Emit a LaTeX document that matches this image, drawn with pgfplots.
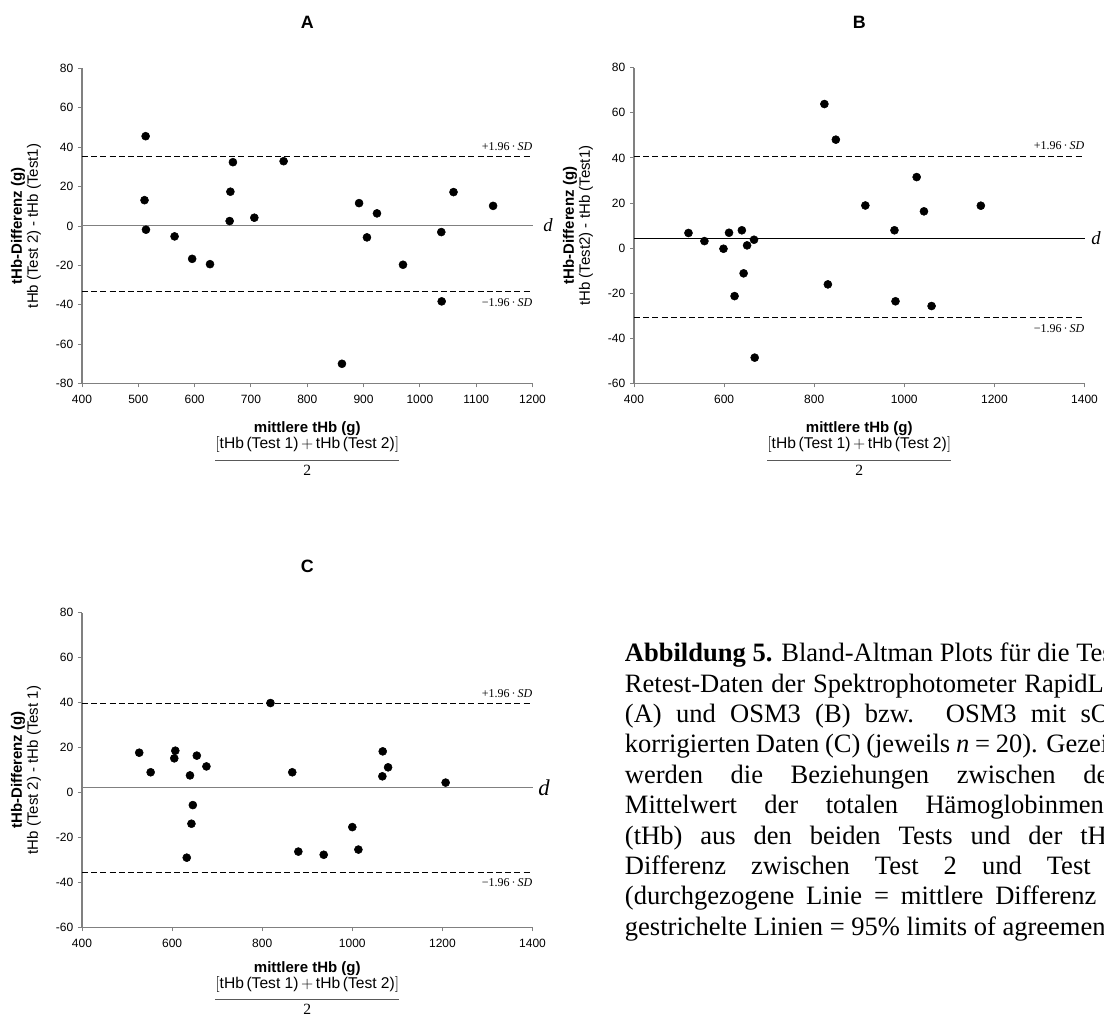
\documentclass[border=0pt]{standalone}
\usepackage{fontspec}
\setmainfont{Liberation Sans}
\newfontfamily\tnr{Liberation Serif}
\usepackage{pgfplots}
\pgfplotsset{compat=1.18}

\pgfplotstableread{
x y
513 45.6
511 13.1
513.6 -1.9
564.4 -5.3
595.6 -16.7
627.3 -19.4
668 32.4
663.5 17.4
662.2 2.5
706 4.2
758 32.9
861.6 -70.0
892 11.6
906 -5.8
923.8 6.4
970 -19.7
1038 -3.1
1038.7 -38.3
1059.7 17.2
1130 10.2
}\dataA

\pgfplotstableread{
x y
520.9 6.7
556.3 3.1
598.6 -0.3
610.9 6.8
623.2 -21.3
639.4 7.9
643.3 -11.2
651 1.2
666.4 3.7
667.9 -48.6
822.6 63.9
848 48.1
830.3 -16.1
913.5 18.9
978.1 7.9
980.4 -23.6
1027.4 31.5
1043.6 16.3
1060.5 -25.7
1169.8 18.8
}\dataB

\pgfplotstableread{
x y
527 17.7
552.4 9.0
604.8 15.2
607.1 18.6
639.7 7.6
646 -5.6
642.9 -13.9
632.5 -29.0
654.8 16.4
676.2 11.6
818.3 39.8
866.7 9.0
880.2 -26.3
936.5 -27.7
1000 -15.4
1013.5 -25.4
1067.5 18.3
1066.7 7.2
1079.4 11.2
1207.1 4.4
}\dataC

\pgfplotsset{ba/.style={
  scale only axis, width=337.9pt, anchor=south west,
  axis x line=bottom, axis y line=left,
  axis line style={-, draw=gray, line width=0.8pt},
  tick align=outside, major tick length=3pt,
  tick style={gray, line width=0.7pt},
  tick label style={font=\fontsize{9}{10}\selectfont, text=black},
  xticklabel style={yshift=-2.25pt},
  /pgf/number format/assume math mode=true,
  /pgf/number format/1000 sep={},
  scaled ticks=false, clip=false,
}}
\tikzset{sdline/.style={dash pattern=on 4.5pt off 2.4pt, line width=0.7pt, black}}

\newcommand{\xlab}[1]{%
  \node[anchor=base] at ([yshift={-37.1pt+#1pt}]axis description cs:0.5,0) {\fontsize{11.25}{13}\selectfont\bfseries mittlere tHb (g)};
  \node[anchor=base, inner sep=0pt] (num) at ([yshift={-49.1pt+#1pt}]axis description cs:0.5,0) {\fontsize{11.7}{13}\selectfont$\bigl[$tHb\,(Test 1)\,$+$\,tHb\,(Test 2)$\bigr]$};
  \draw[line width=0.6pt, gray!70!black] ([yshift=-8.8pt]num.base west) -- ([yshift=-8.8pt]num.base east);
  \node[anchor=base] at ([yshift={-69.2pt+#1pt}]axis description cs:0.5,0) {\tnr\fontsize{11.7}{13}\selectfont 2};
}
\newcommand{\ylab}[1]{%
  \node[rotate=90] at ([xshift=-48pt]axis description cs:0,0.5) {\fontsize{11.25}{13}\selectfont\bfseries tHb-Differenz (g)};
  \node[rotate=90] at ([xshift=-36pt]axis description cs:0,0.5) {\fontsize{11.25}{13}\selectfont #1};
}
\newcommand{\ttl}[1]{%
  \node at ([yshift=34.4pt]axis description cs:0.5,1) {\fontsize{13.4}{15}\selectfont\bfseries #1};
}

\begin{document}
\begin{tikzpicture}
\useasboundingbox (0,0) rectangle (828pt,-763.5pt);
\clip (0,0) rectangle (828pt,-763.5pt);

% ---------- A ----------
\begin{axis}[ba, at={(61.5pt,-287.6pt)}, height=236.25pt,
  xmin=400, xmax=1200, ymin=-80, ymax=80,
  xtick={400,500,...,1200}, ytick={-80,-60,...,80}]
\addplot[gray, line width=0.9pt] coordinates {(400,0.4) (1200,0.4)};
\addplot[sdline] coordinates {(400,35.2) (1200,35.2)};
\addplot[sdline] coordinates {(400,-33.1) (1200,-33.1)};
\addplot[only marks, mark=*, mark size=3pt, black] table {\dataA};
\node[anchor=center] at ([xshift=11.6pt]axis cs:1200,0.4) {\tnr\itshape\fontsize{14}{15}\selectfont d};
\node[anchor=south east, inner sep=0pt] at ([yshift=4.5pt]axis cs:1200,35.2) {\tnr\fontsize{9}{10}\selectfont +1.96\,·\,\textit{SD}};
\node[anchor=north east, inner sep=0pt] at ([yshift=-5pt]axis cs:1200,-33.1) {\tnr\fontsize{9}{10}\selectfont −1.96\,·\,\textit{SD}};
\ttl{A}
\xlab{0}
\ylab{tHb (Test 2) - tHb (Test1)}
\end{axis}

% ---------- B ----------
\begin{axis}[ba, at={(475.5pt,-287.5pt)}, height=236.7pt,
  xmin=400, xmax=1400, ymin=-60, ymax=80,
  xtick={400,600,...,1400}, ytick={-60,-40,...,80}]
\addplot[black, line width=0.7pt] coordinates {(400,4.3) (1400,4.3)};
\addplot[sdline] coordinates {(400,40.7) (1400,40.7)};
\addplot[sdline] coordinates {(400,-30.7) (1400,-30.7)};
\addplot[only marks, mark=*, mark size=3pt, black] table {\dataB};
\node[anchor=center] at ([xshift=8.6pt]axis cs:1400,4.3) {\tnr\itshape\fontsize{14}{15}\selectfont d};
\node[anchor=south east, inner sep=0pt] at ([yshift=4.5pt]axis cs:1400,40.7) {\tnr\fontsize{9}{10}\selectfont +1.96\,·\,\textit{SD}};
\node[anchor=north east, inner sep=0pt] at ([yshift=-5pt]axis cs:1400,-30.7) {\tnr\fontsize{9}{10}\selectfont −1.96\,·\,\textit{SD}};
\ttl{B}
\xlab{0}
\ylab{tHb (Test2) - tHb (Test1)}
\end{axis}

% ---------- C ----------
\begin{axis}[ba, at={(61.5pt,-695.5pt)}, height=236pt,
  xmin=400, xmax=1400, ymin=-60, ymax=80,
  xtick={400,600,...,1400}, ytick={-60,-40,...,80}]
\addplot[gray, line width=0.9pt] coordinates {(400,2.1) (1400,2.1)};
\addplot[sdline] coordinates {(400,39.5) (1400,39.5)};
\addplot[sdline] coordinates {(400,-35.4) (1400,-35.4)};
\addplot[only marks, mark=*, mark size=3pt, black] table {\dataC};
\node[anchor=center] at ([xshift=8.6pt]axis cs:1400,2.1) {\tnr\itshape\fontsize{17}{18}\selectfont d};
\node[anchor=south east, inner sep=0pt] at ([yshift=4.5pt]axis cs:1400,39.5) {\tnr\fontsize{9}{10}\selectfont +1.96\,·\,\textit{SD}};
\node[anchor=north east, inner sep=0pt] at ([yshift=-5pt]axis cs:1400,-35.4) {\tnr\fontsize{9}{10}\selectfont −1.96\,·\,\textit{SD}};
\ttl{C}
\xlab{3.5}
\ylab{tHb (Test 2) - tHb (Test 1)}
\end{axis}

% ---------- caption ----------
\begin{scope}[every node/.style={anchor=base west, inner sep=0pt, font=\tnr\fontsize{19.9}{22.8}\selectfont}]
\node at (468.5pt,-496.3pt) {\makebox[378pt][s]{\textbf{Abbildung 5.} Bland-Altman Plots für die Test-}};
\node at (468.5pt,-519.1pt) {\makebox[378pt][s]{Retest-Daten der Spektrophotometer RapidLab}};
\node at (468.5pt,-541.9pt) {\makebox[378pt][s]{(A) und OSM3 (B) bzw. OSM3 mit sO\textsubscript{2}-}};
\node at (468.5pt,-564.7pt) {\makebox[378pt][s]{korrigierten Daten (C) (jeweils \textit{n} = 20). Gezeigt}};
\node at (468.5pt,-587.5pt) {\makebox[378pt][s]{werden die Beziehungen zwischen dem}};
\node at (468.5pt,-610.3pt) {\makebox[378pt][s]{Mittelwert der totalen Hämoglobinmenge}};
\node at (468.5pt,-633.1pt) {\makebox[378pt][s]{(tHb) aus den beiden Tests und der tHb-}};
\node at (468.5pt,-655.9pt) {\makebox[378pt][s]{Differenz zwischen Test 2 und Test 1}};
\node at (468.5pt,-678.7pt) {\makebox[378pt][s]{(durchgezogene Linie = mittlere Differenz \textit{d};}};
\node at (468.5pt,-701.5pt) {gestrichelte Linien = 95\% limits of agreement).};
\end{scope}
\end{tikzpicture}
\end{document}
